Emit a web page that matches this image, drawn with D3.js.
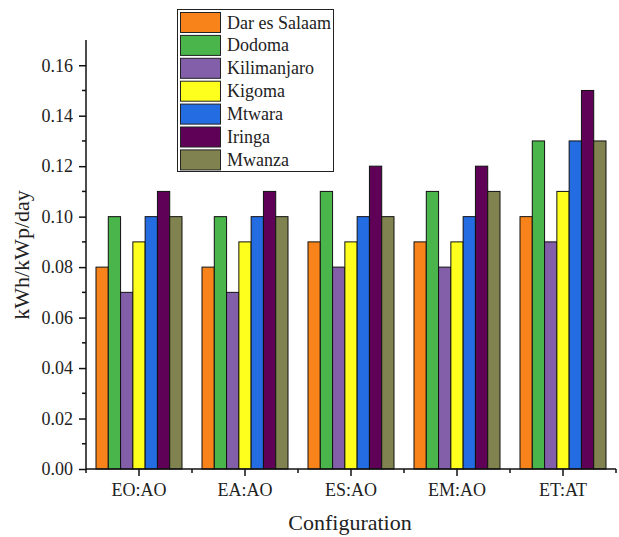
<!DOCTYPE html>
<html><head><meta charset="utf-8">
<script src="https://cdn.jsdelivr.net/npm/d3@7"></script>
<style>body{margin:0;background:#fff}</style>
</head><body><svg id="c" width="619" height="537"></svg>
<script>
const categories = ["EO:AO","EA:AO","ES:AO","EM:AO","ET:AT"];
const seriesNames = ["Dar es Salaam","Dodoma","Kilimanjaro","Kigoma","Mtwara","Iringa","Mwanza"];
const darEsSalaam = [0.08,0.08,0.09,0.09,0.10];
const dodoma      = [0.10,0.10,0.11,0.11,0.13];
const kilimanjaro = [0.07,0.07,0.08,0.08,0.09];
const kigoma      = [0.09,0.09,0.09,0.09,0.11];
const mtwara      = [0.10,0.10,0.10,0.10,0.13];
const iringa      = [0.11,0.11,0.12,0.12,0.15];
const mwanza      = [0.10,0.10,0.10,0.11,0.13];
const yTicks = [0,0.02,0.04,0.06,0.08,0.10,0.12,0.14,0.16];
const colors = ["#F8831A","#4AB54A","#825FA8","#FFFF1E","#246CE2","#5F0156","#80834F"];
const seriesVals = [darEsSalaam,dodoma,kilimanjaro,kigoma,mtwara,iringa,mwanza];
const FONT = "'Liberation Serif', 'Times New Roman', Times, serif";

const svg = d3.select("#c");
const L=86,R=616,T=40,B=469;
const x = d3.scaleBand().domain(categories).range([L,R]).paddingInner(0).paddingOuter(0);
const y = d3.scaleLinear().domain([0,0.17]).range([B,T]);
const groupPad = 10;
const xInner = d3.scaleBand().domain(seriesNames).range([groupPad, x.bandwidth()-groupPad]);

const g = svg.append("g");
categories.forEach((c,ci)=>{
  seriesNames.forEach((s,si)=>{
    const v = seriesVals[si][ci];
    g.append("rect")
      .attr("x", x(c)+xInner(s)).attr("y", y(v))
      .attr("width", xInner.bandwidth()).attr("height", y(0)-y(v))
      .attr("fill", colors[si]).attr("stroke","#111").attr("stroke-width",1);
  });
});

// y axis
const yAxis = d3.axisLeft(y).tickValues(yTicks).tickFormat(d3.format(".2f")).tickSize(7).tickSizeOuter(0);
const ya = svg.append("g").attr("transform",`translate(${L},0)`).call(yAxis);
ya.attr("font-family", FONT);
ya.select(".domain").attr("d",`M0,${T}V${B}`).attr("stroke","#111").attr("stroke-width",1.5);
ya.selectAll(".tick line").attr("stroke","#111").attr("stroke-width",1.5);
ya.selectAll(".tick text").attr("x",-13).attr("fill","#222").style("font-family",FONT).style("font-size","18px");
const yMinor = d3.range(0.01,0.17,0.02);
ya.selectAll(".minor").data(yMinor).enter().append("line")
  .attr("x1",-4).attr("x2",0).attr("y1",d=>y(d)).attr("y2",d=>y(d)).attr("stroke","#111").attr("stroke-width",1.5);

// x axis
const xAxis = d3.axisBottom(x).tickSize(7).tickSizeOuter(0);
const xa = svg.append("g").attr("transform",`translate(0,${B})`).call(xAxis);
xa.attr("font-family", FONT);
xa.select(".domain").attr("d",`M${L},0H${R}`).attr("stroke","#111").attr("stroke-width",1.5);
xa.selectAll(".tick line").attr("stroke","#111").attr("stroke-width",1.5);
xa.selectAll(".tick text").attr("y",14).attr("fill","#222").style("font-family",FONT).style("font-size","18px");
const xMinor = d3.range(0,categories.length+1).map(i=>L+i*x.bandwidth());
xa.selectAll(".minor").data(xMinor).enter().append("line")
  .attr("x1",d=>d).attr("x2",d=>d).attr("y1",0).attr("y2",4).attr("stroke","#111").attr("stroke-width",1.5);

// axis titles
svg.append("text").attr("transform","translate(29,255) rotate(-90)").attr("text-anchor","middle")
  .style("font-family",FONT).style("font-size","22px").attr("fill","#222").text("kWh/kWp/day");
svg.append("text").attr("x",350).attr("y",530).attr("text-anchor","middle")
  .style("font-family",FONT).style("font-size","22px").attr("fill","#222").text("Configuration");

// legend
const lg = svg.append("g");
lg.append("rect").attr("x",177.5).attr("y",9.5).attr("width",156).attr("height",162).attr("fill","#fff").attr("stroke","#222").attr("stroke-width",1);
seriesNames.forEach((s,i)=>{
  const yy = 12.5 + i*22.9;
  lg.append("rect").attr("x",180.5).attr("y",yy).attr("width",40).attr("height",20).attr("fill",colors[i]).attr("stroke","#222").attr("stroke-width",1);
  lg.append("text").attr("x",227).attr("y",yy+16).style("font-family",FONT).style("font-size","18px").attr("fill","#222").text(s);
});
</script></body></html>
